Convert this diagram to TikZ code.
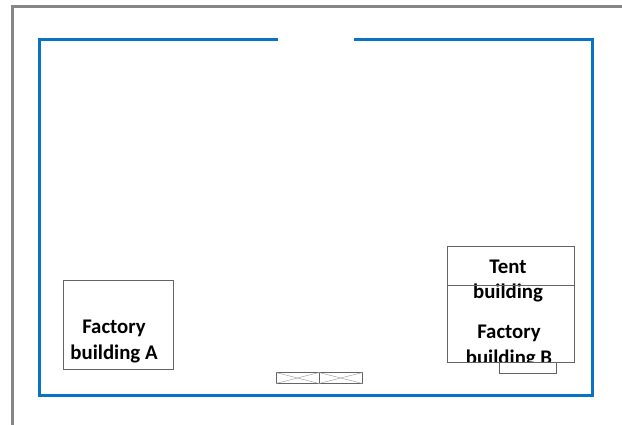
\documentclass[tikz,border=0pt]{standalone}
\usepackage{fontspec}
\setmainfont{Carlito}
\definecolor{wallblue}{RGB}{8,114,196}
\definecolor{framegray}{RGB}{134,134,134}
\definecolor{boxgray}{RGB}{100,100,100}
\tikzset{
	building/.style = {draw=boxgray, fill=white, line width=0.7pt, minimum width=0, inner sep=0},
	buildingtext/.style = {align=center, font=\fontsize{15.6}{18.8}\selectfont\bfseries, inner sep=0},
	wall/.style = {draw=wallblue, line width=2.25pt},
	frame/.style = {draw=framegray, line width=2.25pt},
	cross/.style = {draw=boxgray!60, line width=0.35pt}
}
\begin{document}
\begin{tikzpicture}[x=0.75pt, y=-0.75pt]
	\useasboundingbox (0,0) rectangle (622,425);
	%%% Frame
	\draw[frame] (12.5,425) -- (12.5,6.5) -- (622,6.5);
	%%% Wall
	\draw[wall] (278,39.5) -- (39.5,39.5) -- (39.5,395.5) -- (592.5,395.5) -- (592.5,39.5) -- (354,39.5);
	%%% Factory building A
	\draw[building] (63,280) rectangle (173,369.5);
	\node[buildingtext] (factoryA) at (114,341.5) {Factory\\building A};
	%%% Small box
	\draw[building] (499,355) rectangle (556.5,373);
	%%% Tent building and factory building B
	\draw[building] (447.5,246) rectangle (574,285);
	\draw[building] (447.5,285) rectangle (574,362);
	\node[buildingtext] (tent) at (508,281) {Tent\\building};
	\begin{scope}
		\clip (447.5,285) rectangle (574,362);
		\node[buildingtext] (factoryB) at (509,346.5) {Factory\\building B};
	\end{scope}
	\draw[draw=boxgray, line width=0.7pt] (447.5,285) -- (574,285);
	\draw[draw=boxgray, line width=0.7pt] (447.5,362) -- (574,362);
	%%% Doors
	\draw[building] (276,372.5) rectangle (319,383.5);
	\draw[building] (319,372.5) rectangle (362.5,383.5);
	\draw[cross] (276,372.5) -- (319,383.5);
	\draw[cross] (276,383.5) -- (319,372.5);
	\draw[cross] (319,372.5) -- (362.5,383.5);
	\draw[cross] (319,383.5) -- (362.5,372.5);
\end{tikzpicture}
\end{document}
